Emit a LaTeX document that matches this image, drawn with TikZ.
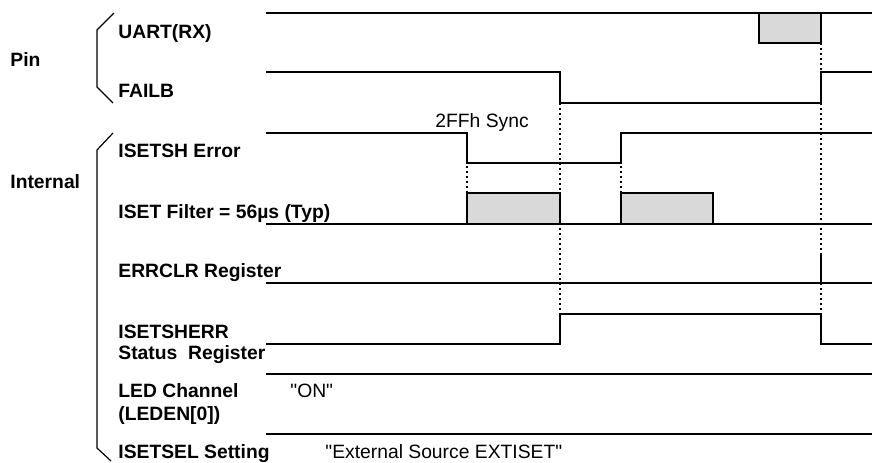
\documentclass[tikz,border=0pt]{standalone}
\usepackage{fontspec}
\setmainfont{Liberation Sans}
\usetikzlibrary{positioning}
\definecolor{wave}{HTML}{000000}
\definecolor{pulsefill}{HTML}{D9D9D9}
\tikzset{
  sigline/.style={line width=0.65pt,draw=wave},
  pulsebox/.style={line width=0.65pt,draw=wave,fill=pulsefill},
  clrpulse/.style={line width=1.2pt,draw=wave},
  dotline/.style={line width=1.3pt,dash pattern=on 1pt off 1.5pt,draw=wave},
  grpline/.style={line width=0.6pt,draw=wave},
  sigtitle/.style={anchor=base west,inner sep=0pt,font=\fontsize{9.65}{11}\selectfont\bfseries},
  valtext/.style={anchor=base west,inner sep=0pt,font=\fontsize{9.65}{11}\selectfont},
}

\begin{document}
\begin{tikzpicture}[x=0.5pt,y=-0.5pt]
  \useasboundingbox (0,0) rectangle (872,462);

  % group titles and brackets
  \node[sigtitle] (pin) at (10,66) {Pin};
  \node[sigtitle] (internal) at (10,188) {Internal};
  \draw[grpline] (114,13) -- (97,30) -- (97,87) -- (113,103);
  \draw[grpline] (113,133) -- (97,150) -- (97,448) -- (111,461);

  % signal names
  \node[sigtitle] (uart) at (118,38) {UART(RX)};
  \node[sigtitle] (failb) at (118,97) {FAILB};
  \node[sigtitle] (sherror) at (118,157) {ISETSH Error};
  \node[sigtitle] (filter) at (118,218) {ISET Filter = 56µs (Typ)};
  \node[sigtitle] (errclr) at (118,277) {ERRCLR Register};
  \node[sigtitle] (sherr) at (118,338) {ISETSHERR};
  \node[sigtitle] (sherrb) at (118,359) {Status~~Register};
  \node[sigtitle] (led) at (118,397) {LED Channel};
  \node[sigtitle] (ledb) at (118,420) {(LEDEN[0])};
  \node[sigtitle] (isetsel) at (118,458) {ISETSEL Setting};

  % values
  \node[valtext] (sync) at (435,127) {2FFh Sync};
  \node[valtext] (ledon) at (290,397) {\textquotedbl ON\textquotedbl};
  \node[valtext] (selval) at (325,458) {\textquotedbl External Source EXTISET\textquotedbl};

  % dotted guides
  \draw[dotline] (467,166) -- (467,193);
  \draw[dotline] (621,166) -- (621,193);
  \draw[dotline] (560,103) -- (560,314);
  \draw[dotline] (821,43) -- (821,314);

  % waveforms
  \draw[sigline] (266,13) -- (872,13);
  \draw[pulsebox] (759,13) rectangle (821,43);

  \draw[sigline] (266,72) -- (560,72) -- (560,103) -- (821,103) -- (821,72) -- (872,72);

  \draw[sigline] (266,133) -- (467,133) -- (467,163) -- (621,163) -- (621,133) -- (872,133);

  \draw[sigline] (266,224) -- (872,224);
  \draw[pulsebox] (467,193) rectangle (560,224);
  \draw[pulsebox] (621,193) rectangle (713,224);

  \draw[sigline] (266,283) -- (872,283);
  \draw[clrpulse] (821,253) -- (821,283);

  \draw[sigline] (266,344) -- (560,344) -- (560,314) -- (821,314) -- (821,344) -- (872,344);

  \draw[sigline] (266,374) -- (872,374);
  \draw[sigline] (266,434) -- (872,434);
\end{tikzpicture}
\end{document}
